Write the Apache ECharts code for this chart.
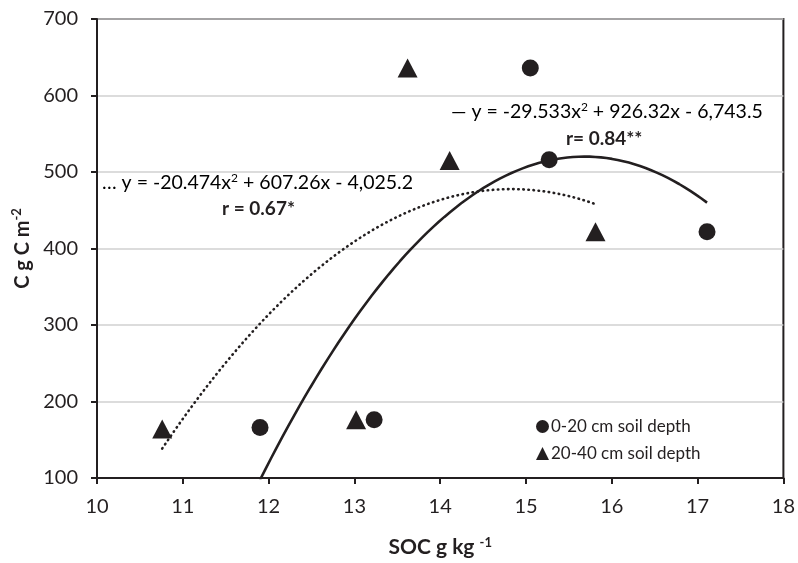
<!DOCTYPE html>
<html>
<head>
<meta charset="utf-8">
<script src="https://cdn.jsdelivr.net/npm/echarts@6/dist/echarts.min.js"></script>
<style>
html,body{margin:0;padding:0;background:#fff;}
#chart{width:798px;height:563px;}
</style>
</head>
<body>
<div id="chart"></div>
<script>
// Data
const soc0_20 = [11.90, 13.23, 15.05, 15.27, 17.11];
const c0_20 = [166, 176, 636, 516, 422];
const soc20_40 = [10.76, 13.02, 13.62, 14.11, 15.81];
const c20_40 = [164, 176, 636, 515, 422];
const seriesNames = ['0-20 cm soil depth', '20-40 cm soil depth'];
// Quadratic trendline coefficients shown on the chart [a, b, c] for y = a x^2 + b x + c
const trend0_20 = [-29.533, 926.32, -6743.5];
const trend20_40 = [-20.474, 607.26, -4025.2];
const xTicks = [10, 11, 12, 13, 14, 15, 16, 17, 18];
const yTicks = [100, 200, 300, 400, 500, 600, 700];

const INK = '#231f20';
const FONT = 'Lato';

function curve(coef, xs) {
  const lo = Math.min.apply(null, xs), hi = Math.max.apply(null, xs);
  const pts = [];
  const n = 80;
  for (let i = 0; i <= n; i++) {
    const x = lo + (hi - lo) * i / n;
    pts.push([x, coef[0] * x * x + coef[1] * x + coef[2]]);
  }
  return pts;
}

const chart = echarts.init(document.getElementById('chart'), null, {renderer: 'canvas'});
chart.setOption({
  animation: false,
  backgroundColor: '#fff',
  textStyle: {fontFamily: FONT, color: INK},
  grid: {left: 97, right: 14, top: 19, bottom: 85, show: true, borderColor: INK, borderWidth: 2, backgroundColor: 'transparent'},
  xAxis: {
    type: 'value', min: xTicks[0], max: xTicks[xTicks.length - 1], interval: 1,
    name: '{b|SOC g kg }{s|-1}', nameLocation: 'middle', nameGap: 58,
    nameTextStyle: {rich: {
      b: {fontFamily: FONT, fontWeight: 'bold', fontSize: 21, color: INK},
      s: {fontFamily: FONT, fontWeight: 'bold', fontSize: 13, color: INK, verticalAlign: 'top', padding: [0,0,10,0]}
    }},
    axisLine: {show: true, lineStyle: {color: INK, width: 2}},
    axisTick: {show: true, inside: false, length: 6, lineStyle: {color: INK, width: 2}},
    axisLabel: {fontFamily: FONT, fontSize: 20, color: INK, margin: 19},
    splitLine: {show: false}
  },
  yAxis: {
    type: 'value', min: yTicks[0], max: yTicks[yTicks.length - 1], interval: 100,
    name: '{b|C g C m}{s|-2}', nameLocation: 'middle', nameGap: 63, nameRotate: 90,
    nameTextStyle: {rich: {
      b: {fontFamily: FONT, fontWeight: 'bold', fontSize: 20, color: INK},
      s: {fontFamily: FONT, fontWeight: 'bold', fontSize: 13, color: INK, verticalAlign: 'top', padding: [0,0,10,0]}
    }},
    axisLine: {show: true, lineStyle: {color: INK, width: 2}},
    axisTick: {show: true, inside: false, length: 6, lineStyle: {color: INK, width: 2}},
    axisLabel: {fontFamily: FONT, fontSize: 20, color: INK, margin: 19},
    splitLine: {show: true, lineStyle: {color: '#d0d0d0', width: 1.5}}
  },
  legend: {
    orient: 'vertical', left: 531, top: 413, itemGap: 10, itemWidth: 13, itemHeight: 13,
    textStyle: {fontFamily: FONT, fontSize: 17, color: INK, padding: [0,0,0,-3]},
    data: [{name: seriesNames[0], icon: 'circle'}, {name: seriesNames[1], icon: 'triangle'}]
  },
  series: [
    {
      type: 'line', name: 'trend 20-40', data: curve(trend20_40, soc20_40), showSymbol: false, silent: true,
      lineStyle: {color: INK, width: 2.6, type: [0.5, 4.6], cap: 'round'}, z: 2
    },
    {
      type: 'line', name: 'trend 0-20', data: curve(trend0_20, soc0_20), showSymbol: false, silent: true,
      lineStyle: {color: INK, width: 2.6}, z: 2
    },
    {
      type: 'scatter', name: seriesNames[0], symbol: 'circle', symbolSize: 17,
      data: soc0_20.map((x, i) => [x, c0_20[i]]), itemStyle: {color: INK, opacity: 1}, z: 3
    },
    {
      type: 'scatter', name: seriesNames[1], symbol: 'triangle', symbolSize: [20, 19],
      data: soc20_40.map((x, i) => [x, c20_40[i]]), itemStyle: {color: INK, opacity: 1}, z: 3
    }
  ],
  graphic: [
    {type: 'text', left: 102, top: 172, z: 10, style: {
      text: '{n|… y = -20.474x}{s|2}{n| + 607.26x - 4,025.2}',
      rich: {n: {fontFamily: FONT, fontSize: 19.5, color: INK}, s: {fontFamily: FONT, fontSize: 12, color: INK, verticalAlign: 'top', padding: [0,0,10,0]}}
    }},
    {type: 'text', left: 222, top: 199, z: 10, style: {text: 'r = 0.67*', font: 'bold 19px ' + FONT, fill: INK}},
    {type: 'text', left: 451, top: 101, z: 10, style: {
      text: '{n|— y = -29.533x}{s|2}{n| + 926.32x - 6,743.5}',
      rich: {n: {fontFamily: FONT, fontSize: 19.5, color: INK}, s: {fontFamily: FONT, fontSize: 12, color: INK, verticalAlign: 'top', padding: [0,0,10,0]}}
    }},
    {type: 'text', left: 566, top: 129, z: 10, style: {text: 'r= 0.84**', font: 'bold 19px ' + FONT, fill: INK}}
  ]
});
</script>
</body>
</html>
